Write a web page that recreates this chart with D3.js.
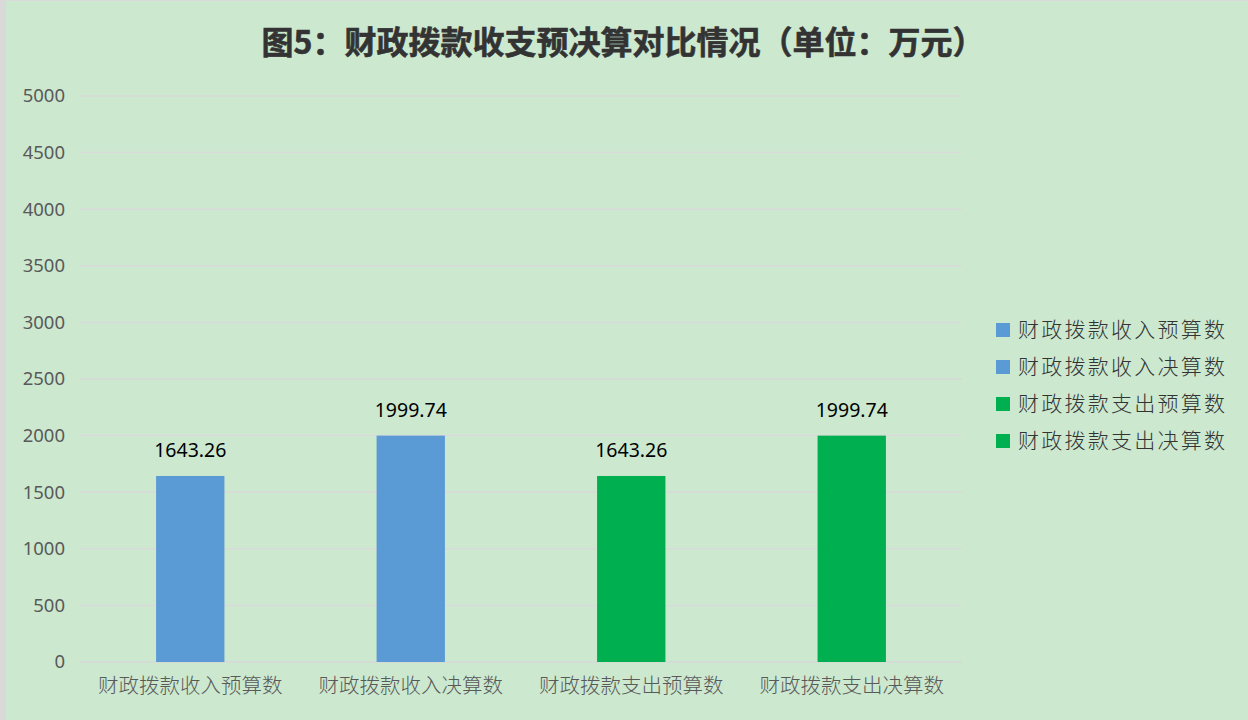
<!DOCTYPE html>
<html>
<head>
<meta charset="utf-8">
<script src="https://cdn.jsdelivr.net/npm/d3@7"></script>
<style>
  body { margin: 0; background: #d9d9d9; }
  svg { display: block; }
</style>
</head>
<body>
<div id="chart-area"></div>
<script>
// 财政拨款收支预决算对比 - bar chart

const categories = ["财政拨款收入预算数", "财政拨款收入决算数", "财政拨款支出预算数", "财政拨款支出决算数"];
const values = [1643.26, 1999.74, 1643.26, 1999.74];
const colors = ["#5b9bd5", "#5b9bd5", "#00b050", "#00b050"];
const yTicks = [0, 500, 1000, 1500, 2000, 2500, 3000, 3500, 4000, 4500, 5000];
const title = "图5：财政拨款收支预决算对比情况（单位：万元）";

let W = 1248, H = 720;
let margin = { top: 96, left: 80, right: 286, bottom: 58 };
let width = W - margin.left - margin.right,
  height = H - margin.top - margin.bottom;

let svg = d3.select("#chart-area")
  .append("svg")
  .attr("width", W)
  .attr("height", H);

// background + light frame on the top / left edge
svg.append("rect").attr("width", W).attr("height", H).attr("fill", "#d9d9d9");
svg.append("rect")
  .attr("x", 6).attr("y", 1)
  .attr("width", W - 6).attr("height", H - 1)
  .attr("fill", "#cce8cf");

svg.append("text")
  .attr("x", 623)
  .attr("y", 54)
  .attr("text-anchor", "middle")
  .attr("font-family", "'Noto Sans CJK SC', sans-serif")
  .attr("font-weight", "bold")
  .attr("font-size", 32)
  .attr("fill", "#333")
  .attr("stroke", "#333")
  .attr("stroke-width", 0.6)
  .attr("textLength", 723)
  .attr("lengthAdjust", "spacingAndGlyphs")
  .text(title);

let g = svg.append("g")
  .attr("transform", "translate(" + margin.left + "," + margin.top + ")");

let x = d3.scaleBand().domain(categories).range([0, width]).paddingInner(0.69).paddingOuter(0.345);
let y = d3.scaleLinear().domain([0, 5000]).range([height, 0]);

// gridlines
g.selectAll(".grid")
  .data(yTicks)
  .enter()
  .append("line")
  .attr("class", "grid")
  .attr("x1", 0)
  .attr("x2", width)
  .attr("y1", d => y(d))
  .attr("y2", d => y(d))
  .attr("stroke", "#d9d9d9")
  .attr("stroke-width", 1.5);

// y axis (labels only)
let yAxis = d3.axisLeft(y).tickValues(yTicks).tickSize(0).tickPadding(15).tickFormat(d3.format("d"));
let yAxisGroup = g.append("g").attr("class", "y-axis").call(yAxis);
yAxisGroup.select(".domain").remove();
yAxisGroup.selectAll("text")
  .attr("font-family", "'Noto Sans', sans-serif")
  .attr("font-size", 18.5)
  .attr("fill", "#595959");

// x axis (labels only)
let xAxis = d3.axisBottom(x).tickSize(0).tickPadding(16);
let xAxisGroup = g.append("g")
  .attr("class", "x-axis")
  .attr("transform", "translate(0," + height + ")")
  .call(xAxis);
xAxisGroup.select(".domain").remove();
xAxisGroup.selectAll("text")
  .attr("font-family", "'Noto Sans CJK SC', sans-serif")
  .attr("font-weight", 300)
  .attr("font-size", 20.5)
  .attr("fill", "#595959");

// bars
g.selectAll(".bar")
  .data(values)
  .enter()
  .append("rect")
  .attr("class", "bar")
  .attr("x", (d, i) => x(categories[i]))
  .attr("y", d => y(d))
  .attr("width", x.bandwidth())
  .attr("height", d => height - y(d))
  .attr("fill", (d, i) => colors[i]);

// value labels
g.selectAll(".label")
  .data(values)
  .enter()
  .append("text")
  .attr("class", "label")
  .attr("x", (d, i) => x(categories[i]) + x.bandwidth() / 2)
  .attr("y", d => y(d) - 19)
  .attr("text-anchor", "middle")
  .attr("font-family", "'Noto Sans', sans-serif")
  .attr("font-size", 19.5)
  .attr("fill", "#000")
  .text(d => d.toFixed(2));

// legend
let legend = svg.append("g").attr("transform", "translate(996,330)");
let items = legend.selectAll(".item")
  .data(categories)
  .enter()
  .append("g")
  .attr("class", "item")
  .attr("transform", (d, i) => "translate(0," + i * 37 + ")");
items.append("rect")
  .attr("x", 0).attr("y", -7)
  .attr("width", 14).attr("height", 14)
  .attr("fill", (d, i) => colors[i]);
items.append("text")
  .attr("x", 22)
  .attr("y", 0)
  .attr("dy", "0.35em")
  .attr("font-family", "'Noto Sans CJK SC', sans-serif")
  .attr("font-weight", 300)
  .attr("font-size", 21)
  .attr("textLength", 207)
  .attr("lengthAdjust", "spacing")
  .attr("fill", "#333")
  .text(d => d);
</script>
</body>
</html>
